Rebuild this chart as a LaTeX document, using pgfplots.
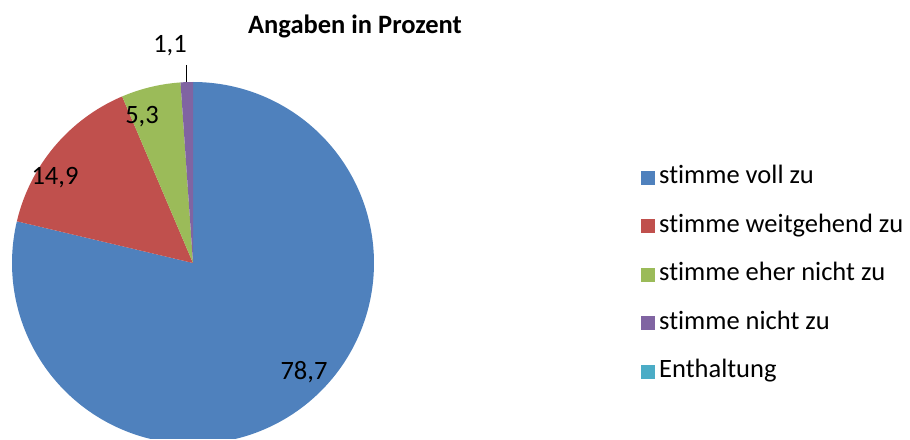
\documentclass[border=0pt]{standalone}
\usepackage{pgfplots}
\pgfplotsset{compat=1.18}
\usepackage{fontspec}
\setmainfont{Carlito}[RawFeature=-liga]
\definecolor{cBlue}{HTML}{4F81BD}
\definecolor{cRed}{HTML}{C0504D}
\definecolor{cGreen}{HTML}{9BBB59}
\definecolor{cPurple}{HTML}{8064A2}
\definecolor{cCyan}{HTML}{4BACC6}
% data (percent)
\def\vA{78.7}\def\vB{14.9}\def\vC{5.3}\def\vD{1.1}\def\vE{0}
\pgfmathsetmacro{\aA}{90}
\pgfmathsetmacro{\aB}{\aA-3.6*\vA}
\pgfmathsetmacro{\aC}{\aB-3.6*\vB}
\pgfmathsetmacro{\aD}{\aC-3.6*\vC}
\pgfmathsetmacro{\aE}{\aD-3.6*\vD}
\def\cx{193}\def\cy{176}\def\rr{181}
\newcommand\fs{\fontsize{26.5}{30}\selectfont}
\begin{document}
\begin{tikzpicture}
\begin{axis}[
  scale only axis, width=910pt, height=439pt,
  xmin=0, xmax=910, ymin=0, ymax=439,
  hide axis, clip=true,
  legend style={at={(axis cs:638,164)}, anchor=west, draw=none, fill=none,
    font=\fs, row sep=24.5pt,
    nodes={inner sep=0pt, text height=18pt, text depth=6pt, anchor=west},
    /tikz/every odd column/.append style={column sep=4pt}},
  legend cell align=left,
  legend image code/.code={\fill[#1] (0pt,-7pt) rectangle (14pt,7pt);},
]
\path (rel axis cs:0,0) rectangle (rel axis cs:1,1);
\addplot[fill=cBlue, draw=none, samples=200, domain=\aB:\aA, variable=\t]
  ({\cx+\rr*cos(\t)},{\cy+\rr*sin(\t)}) -- (axis cs:\cx,\cy) -- cycle;
\addlegendentry{stimme voll zu}
\addplot[fill=cRed, draw=none, samples=50, domain=\aC:\aB, variable=\t]
  ({\cx+\rr*cos(\t)},{\cy+\rr*sin(\t)}) -- (axis cs:\cx,\cy) -- cycle;
\addlegendentry{stimme weitgehend zu}
\addplot[fill=cGreen, draw=none, samples=20, domain=\aD:\aC, variable=\t]
  ({\cx+\rr*cos(\t)},{\cy+\rr*sin(\t)}) -- (axis cs:\cx,\cy) -- cycle;
\addlegendentry{stimme eher nicht zu}
\addplot[fill=cPurple, draw=none, samples=10, domain=\aE:\aD, variable=\t]
  ({\cx+\rr*cos(\t)},{\cy+\rr*sin(\t)}) -- (axis cs:\cx,\cy) -- cycle;
\addlegendentry{stimme nicht zu}
\addlegendimage{fill=cCyan, draw=none}
\addlegendentry{Enthaltung}
\addplot[black, line width=1pt, forget plot] coordinates {(186,374) (186,357)};
\node[font=\fs] at (axis cs:304,67) {78,7};
\node[font=\fs] at (axis cs:55,261) {14,9};
\node[font=\fs] at (axis cs:142,322) {5,3};
\node[font=\fs] at (axis cs:170,393) {1,1};
\node[font=\fs\bfseries] at (axis cs:355,413) {Angaben in Prozent};
\end{axis}
\end{tikzpicture}
\end{document}
